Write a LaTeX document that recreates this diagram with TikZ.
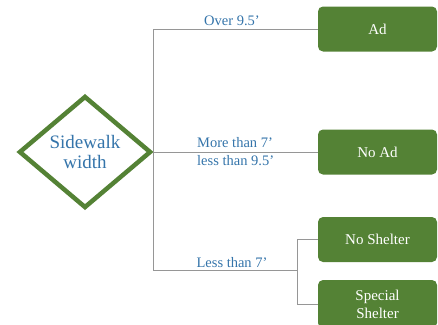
\documentclass[tikz,border=0pt]{standalone}
\usepackage{fontspec}
\setmainfont{Liberation Serif}
\usetikzlibrary{shapes.geometric}
\definecolor{boxgreen}{RGB}{84,130,53}
\definecolor{lblblue}{RGB}{52,116,170}
\definecolor{linegray}{RGB}{150,150,150}
\begin{document}
\begin{tikzpicture}[x=1pt,y=-1pt,
  outbox/.style={rectangle, rounded corners=5pt, fill=boxgreen, text=white,
    minimum width=119pt, minimum height=45pt, inner sep=0pt, align=center,
    font=\fontsize{15}{18}\selectfont},
  lbl/.style={text=lblblue, inner sep=0pt, font=\fontsize{14.5}{17}\selectfont},
  conn/.style={draw=linegray, line width=1pt}]
\useasboundingbox (0,0) rectangle (438,324);
\node[diamond, draw=boxgreen, line width=4.5pt, fill=white, aspect=1.17,
  minimum width=132pt, minimum height=112pt, inner sep=0pt, align=center,
  text=lblblue, font=\fontsize{19}{20}\selectfont] (d) at (85,152) {Sidewalk\\width};
\node[outbox] (ad) at (377.5,29) {Ad};
\node[outbox] (noad) at (377.5,152) {No Ad};
\node[outbox] (ns) at (377.5,239.5) {No Shelter};
\node[outbox, minimum height=48pt] (ss) at (377.5,304) {Special\\Shelter};
\coordinate (j) at (297,270);
\draw[conn] (d.east) |- (ad.west);
\draw[conn] (d.east) -- (noad.west);
\draw[conn] (d.east) |- (j);
\draw[conn] (j) |- (ns.west);
\draw[conn] (j) |- (ss.west);
\node[lbl, anchor=base] (l1) at (232,25) {Over 9.5’};
\node[lbl, anchor=base west] (l2) at (197,147) {More than 7’};
\node[lbl, anchor=base west] (l3) at (197,165) {less than 9.5’};
\node[lbl, anchor=base] (l4) at (232,267) {Less than 7’};
\end{tikzpicture}
\end{document}
